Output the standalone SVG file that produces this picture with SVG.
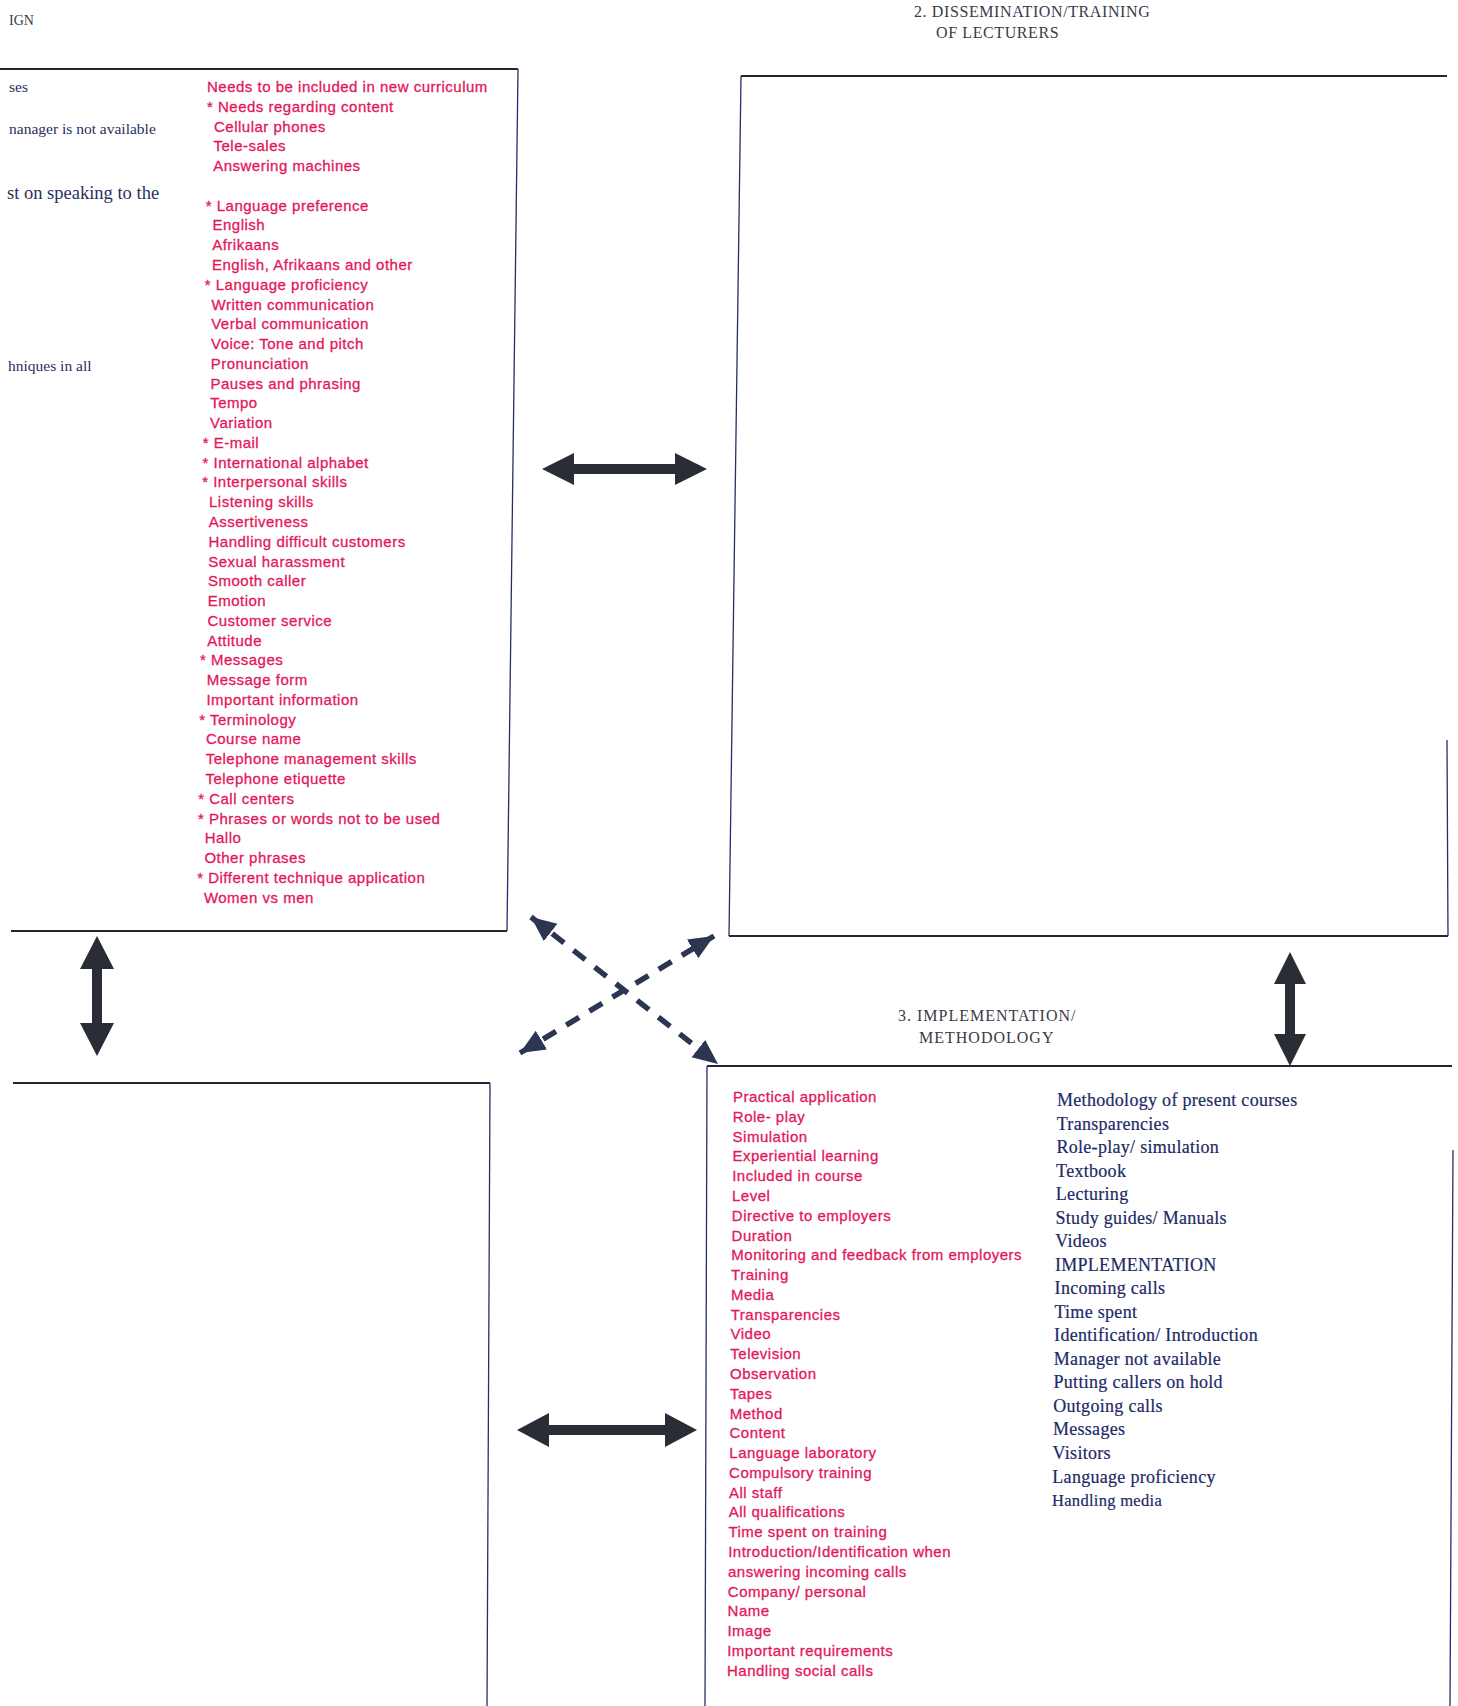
<svg xmlns="http://www.w3.org/2000/svg" width="1458" height="1706" viewBox="0 0 1458 1706">
<style>
.pk{font-family:"Liberation Sans",Arial,sans-serif;font-size:15px;fill:#e3175a;stroke:#e3175a;stroke-width:0.3px;letter-spacing:0.5px}
.bl{font-family:"Liberation Serif","Times New Roman",serif;font-size:18px;fill:#1c2a66;stroke:#1c2a66;stroke-width:0.2px;letter-spacing:0.3px}
.ttl{font-family:"Liberation Serif","Times New Roman",serif;font-size:16px;fill:#3a3a48}
.frag{font-family:"Liberation Serif","Times New Roman",serif;font-size:15.5px;fill:#2a2f5e}
.edge{stroke:#24306a;stroke-width:1.3;fill:none}
.rule{stroke:#26262e;stroke-width:2;fill:none}
.thick{fill:#2a2d36}
.dash{stroke:#2c3552;stroke-width:5.5;stroke-dasharray:15 12;fill:none}
</style>
<defs>
<marker id="ah" markerUnits="userSpaceOnUse" markerWidth="28" markerHeight="24" refX="25" refY="11" orient="auto-start-reverse">
<path d="M0,0 L25,11 L0,22 z" fill="#2c3552"/>
</marker>
</defs>
<rect width="1458" height="1706" fill="#ffffff"/>

<g id="title-design">
<text class="ttl" x="9" y="25" style="font-size:14px">IGN</text>
</g>

<g id="node-design">
<path class="rule" d="M0,69 L518,69"/>
<path class="edge" d="M518,69 L507,931"/>
<path class="rule" d="M11,931 L507,931"/>
<text class="frag" x="9" y="92">ses</text>
<text class="frag" x="9" y="134">nanager is not available</text>
<text class="frag" x="7" y="199" style="font-size:18.5px">st on speaking to the</text>
<text class="frag" x="8" y="371">hniques in all</text>
<g class="pk">
<text x="207" y="92">Needs to be included in new curriculum</text>
<text x="207" y="112">* Needs regarding content</text>
<text x="214" y="131.5">Cellular phones</text>
<text x="213.5" y="151.3">Tele-sales</text>
<text x="213.2" y="171.1">Answering machines</text>
<text x="205.7" y="210.6">* Language preference</text>
<text x="212.5" y="230.4">English</text>
<text x="212.2" y="250.2">Afrikaans</text>
<text x="212" y="269.9">English, Afrikaans and other</text>
<text x="204.7" y="289.7">* Language proficiency</text>
<text x="211.5" y="309.5">Written communication</text>
<text x="211.2" y="329.2">Verbal communication</text>
<text x="211" y="349">Voice: Tone and pitch</text>
<text x="210.7" y="368.8">Pronunciation</text>
<text x="210.5" y="388.6">Pauses and phrasing</text>
<text x="210.2" y="408.3">Tempo</text>
<text x="210" y="428.1">Variation</text>
<text x="202.7" y="447.9">* E-mail</text>
<text x="202.5" y="467.6">* International alphabet</text>
<text x="202.2" y="487.4">* Interpersonal skills</text>
<text x="209" y="507.2">Listening skills</text>
<text x="208.7" y="526.9">Assertiveness</text>
<text x="208.5" y="546.7">Handling difficult customers</text>
<text x="208.2" y="566.5">Sexual harassment</text>
<text x="208" y="586.3">Smooth caller</text>
<text x="207.7" y="606">Emotion</text>
<text x="207.4" y="625.8">Customer service</text>
<text x="207.2" y="645.6">Attitude</text>
<text x="199.9" y="665.3">* Messages</text>
<text x="206.7" y="685.1">Message form</text>
<text x="206.4" y="704.9">Important information</text>
<text x="199.2" y="724.6">* Terminology</text>
<text x="205.9" y="744.4">Course name</text>
<text x="205.7" y="764.2">Telephone management skills</text>
<text x="205.4" y="784">Telephone etiquette</text>
<text x="198.2" y="803.7">* Call centers</text>
<text x="197.9" y="823.5">* Phrases or words not to be used</text>
<text x="204.7" y="843.3">Hallo</text>
<text x="204.4" y="863">Other phrases</text>
<text x="197.2" y="882.8">* Different technique application</text>
<text x="203.9" y="902.6">Women vs men</text>
</g>
</g>

<g id="node-dissemination">
<text class="ttl" x="914" y="17" style="letter-spacing:0.6px">2. DISSEMINATION/TRAINING</text>
<text class="ttl" x="936" y="38" style="letter-spacing:0.6px">OF LECTURERS</text>
<path class="rule" d="M741,76 L1447,76"/>
<path class="edge" d="M741,76 L729,936"/>
<path class="rule" d="M729,936 L1448,936"/>
<path class="edge" d="M1447,740 L1448,936"/>
</g>

<g id="node-implementation">
<text class="ttl" x="898" y="1021" style="letter-spacing:1px">3. IMPLEMENTATION/</text>
<text class="ttl" x="919" y="1043" style="letter-spacing:1px">METHODOLOGY</text>
<path class="rule" d="M707,1066 L1452,1066"/>
<path class="edge" d="M707,1066 L705,1706"/>
<path class="edge" d="M1453,1150 L1450,1706"/>
<g class="pk">
<text x="733" y="1102">Practical application</text>
<text x="732.8" y="1121.8">Role- play</text>
<text x="732.6" y="1141.6">Simulation</text>
<text x="732.4" y="1161.3">Experiential learning</text>
<text x="732.2" y="1181.1">Included in course</text>
<text x="732" y="1200.9">Level</text>
<text x="731.8" y="1220.7">Directive to  employers</text>
<text x="731.6" y="1240.5">Duration</text>
<text x="731.3" y="1260.2">Monitoring and feedback from employers</text>
<text x="731.1" y="1280">Training</text>
<text x="730.9" y="1299.8">Media</text>
<text x="730.7" y="1319.6">Transparencies</text>
<text x="730.5" y="1339.4">Video</text>
<text x="730.3" y="1359.1">Television</text>
<text x="730.1" y="1378.9">Observation</text>
<text x="729.9" y="1398.7">Tapes</text>
<text x="729.7" y="1418.5">Method</text>
<text x="729.5" y="1438.3">Content</text>
<text x="729.3" y="1458">Language laboratory</text>
<text x="729.1" y="1477.8">Compulsory training</text>
<text x="728.9" y="1497.6">All staff</text>
<text x="728.7" y="1517.4">All qualifications</text>
<text x="728.4" y="1537.2">Time spent on training</text>
<text x="728.2" y="1556.9">Introduction/Identification  when</text>
<text x="728" y="1576.7">answering incoming calls</text>
<text x="727.8" y="1596.5">Company/ personal</text>
<text x="727.6" y="1616.3">Name</text>
<text x="727.4" y="1636.1">Image</text>
<text x="727.2" y="1655.8">Important requirements</text>
<text x="727" y="1675.6">Handling social calls</text>
</g>
<g class="bl">
<text x="1057" y="1106">Methodology of present courses</text>
<text x="1056.7" y="1129.5">Transparencies</text>
<text x="1056.4" y="1153.1">Role-play/ simulation</text>
<text x="1056.1" y="1176.6">Textbook</text>
<text x="1055.8" y="1200.1">Lecturing</text>
<text x="1055.5" y="1223.6">Study guides/ Manuals</text>
<text x="1055.2" y="1247.2">Videos</text>
<text x="1054.9" y="1270.7">IMPLEMENTATION</text>
<text x="1054.6" y="1294.2">Incoming calls</text>
<text x="1054.4" y="1317.8">Time spent</text>
<text x="1054.1" y="1341.3">Identification/ Introduction</text>
<text x="1053.8" y="1364.8">Manager not available</text>
<text x="1053.5" y="1388.4">Putting callers on hold</text>
<text x="1053.2" y="1411.9">Outgoing calls</text>
<text x="1052.9" y="1435.4">Messages</text>
<text x="1052.6" y="1458.9">Visitors</text>
<text x="1052.3" y="1482.5">Language proficiency</text>
<text x="1052" y="1506" style="font-size:16.5px">Handling media</text>
</g>
</g>

<g id="node-bottom-left">
<path class="rule" d="M13,1083 L490,1083"/>
<path class="edge" d="M490,1083 L487,1706"/>
</g>

<g id="connectors">
<path class="thick" d="M542,469 L574,453 L574,464 L675,464 L675,453 L707,469 L675,485 L675,474 L574,474 L574,485 Z"/>
<path class="thick" d="M517,1430 L549,1413 L549,1425 L665,1425 L665,1413 L697,1430 L665,1447 L665,1435 L549,1435 L549,1447 Z"/>
<path class="thick" d="M97,936 L114,969 L102,969 L102,1023 L114,1023 L97,1056 L80,1023 L92,1023 L92,969 L80,969 Z"/>
<path class="thick" d="M1290,952 L1306,984 L1295,984 L1295,1034 L1306,1034 L1290,1066 L1274,1034 L1285,1034 L1285,984 L1274,984 Z"/>
<line class="dash" x1="531" y1="917" x2="718" y2="1064" marker-start="url(#ah)" marker-end="url(#ah)"/>
<line class="dash" x1="520" y1="1053" x2="714" y2="936" marker-start="url(#ah)" marker-end="url(#ah)"/>
</g>
</svg>
